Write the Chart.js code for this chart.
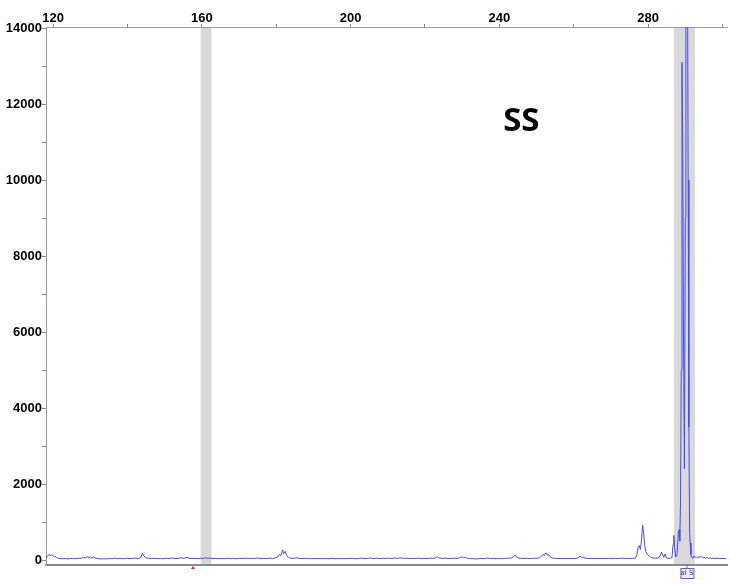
<!DOCTYPE html>
<html>
<head>
<meta charset="utf-8">
<script src="https://cdn.jsdelivr.net/npm/chart.js@4"></script>
<style>
  body { margin: 0; background: #fff; }
  canvas { display: block; }
</style>
</head>
<body>
<canvas id="epg" width="730" height="584"></canvas>
<script>
// fragment size (bp) and signal (RFU)
const sizes = [
  118.2, 118.6, 119.0, 119.3, 119.6, 120.0, 120.4, 120.8, 121.2, 121.8, 122.5, 123.3, 124.0, 124.8, 125.5, 126.2,
  127.0, 127.6, 128.2, 128.7, 129.2, 129.6, 130.0, 130.4, 130.9, 131.4, 132.0, 132.8, 133.5, 134.3, 135.0, 135.8,
  136.6, 137.4, 138.2, 139.0, 139.8, 140.6, 141.4, 142.2, 143.0, 143.6, 144.0, 144.4, 144.9, 145.6, 146.4, 147.2,
  148.0, 148.8, 149.6, 150.4, 151.2, 152.0, 152.8, 153.6, 154.4, 155.2, 156.0, 156.8, 157.6, 158.4, 159.2, 159.8,
  160.4, 161.0, 161.6, 162.2, 163.0, 163.8, 164.6, 165.4, 166.2, 167.0, 167.8, 168.6, 169.4, 170.2, 171.0, 171.8,
  172.6, 173.4, 174.2, 175.0, 175.8, 176.6, 177.4, 178.2, 179.0, 179.8, 180.4, 180.9, 181.3, 181.7, 182.0, 182.4,
  182.8, 183.3, 183.8, 184.6, 185.4, 186.2, 187.0, 187.8, 188.6, 189.4, 190.2, 191.0, 191.8, 192.6, 193.4, 194.2,
  195.0, 195.8, 196.6, 197.4, 198.2, 199.0, 199.8, 200.6, 201.4, 202.2, 203.0, 203.8, 204.6, 205.4, 206.2, 207.0,
  207.8, 208.6, 209.4, 210.2, 211.0, 211.8, 212.6, 213.4, 214.2, 215.0, 215.8, 216.6, 217.4, 218.2, 219.0, 219.8,
  220.6, 221.4, 222.2, 222.8, 223.3, 223.8, 224.6, 225.4, 226.2, 227.0, 227.8, 228.6, 229.2, 229.6, 230.0, 230.4,
  230.8, 231.2, 232.0, 232.8, 233.6, 234.4, 235.2, 236.0, 236.8, 237.6, 238.4, 239.2, 240.0, 240.8, 241.6, 242.4,
  243.2, 243.8, 244.2, 244.6, 245.2, 246.0, 246.8, 247.6, 248.4, 249.2, 250.0, 250.8, 251.4, 251.8, 252.1, 252.5,
  252.9, 253.3, 253.7, 254.2, 255.0, 255.8, 256.6, 257.4, 258.2, 259.0, 259.8, 260.6, 261.2, 261.7, 262.1, 262.5,
  263.0, 263.8, 264.6, 265.4, 266.2, 267.0, 267.8, 268.6, 269.4, 270.2, 271.0, 271.8, 272.6, 273.4, 274.2, 275.0,
  275.8, 276.6, 277.0, 277.3, 277.6, 277.9, 278.2, 278.5, 278.8, 279.1, 279.4, 279.8, 280.3, 280.8, 281.3, 282.0,
  282.7, 283.2, 283.6, 283.9, 284.2, 284.6, 284.9, 285.3, 285.9, 286.4, 286.7, 286.9, 287.1, 287.4, 287.7, 287.9,
  288.1, 288.3, 288.5, 288.7, 288.9, 289.1, 289.3, 289.5, 289.75, 290.0, 290.15, 290.35, 290.55, 290.75, 290.95, 291.15,
  291.3, 291.5, 291.8, 292.1, 292.4, 292.7, 293.0, 293.4, 293.8, 294.2, 294.6, 295.0, 295.4, 295.8, 296.2, 296.6,
  297.0, 297.5, 298.0, 298.6, 299.2, 299.8, 300.4, 301.0
];
const rfu = [
  60, 120, 150, 110, 140, 120, 80, 90, 50, 40, 35, 40, 30, 45, 35, 40,
  50, 45, 70, 55, 90, 60, 85, 55, 80, 50, 40, 30, 35, 30, 40, 35,
  50, 35, 45, 35, 50, 40, 45, 50, 40, 70, 180, 110, 60, 50, 40, 45,
  35, 40, 35, 50, 40, 55, 40, 45, 60, 45, 70, 45, 40, 45, 35, 50,
  45, 60, 45, 50, 40, 45, 35, 40, 35, 45, 35, 40, 35, 45, 40, 50,
  40, 45, 40, 55, 40, 45, 40, 50, 40, 60, 80, 150, 120, 270, 170, 230,
  120, 70, 50, 45, 60, 45, 40, 45, 40, 35, 40, 35, 40, 35, 40, 35,
  45, 35, 40, 35, 40, 35, 45, 40, 35, 40, 50, 40, 45, 55, 40, 50,
  40, 45, 40, 50, 40, 55, 45, 60, 45, 50, 40, 45, 40, 50, 40, 45,
  40, 50, 45, 60, 85, 55, 45, 50, 40, 45, 50, 40, 60, 70, 85, 60,
  80, 50, 40, 35, 30, 35, 45, 35, 55, 40, 45, 35, 40, 35, 45, 50,
  55, 90, 130, 80, 50, 45, 40, 45, 40, 50, 45, 60, 110, 160, 120, 190,
  130, 140, 80, 55, 45, 40, 40, 40, 40, 40, 40, 45, 60, 100, 70, 80,
  50, 40, 45, 40, 45, 40, 45, 40, 45, 40, 45, 40, 50, 45, 40, 45,
  40, 50, 150, 330, 380, 280, 500, 920, 700, 380, 220, 150, 100, 70, 55, 45,
  50, 110, 210, 140, 70, 160, 60, 45, 50, 60, 400, 650, 350, 80, 120, 350,
  700, 800, 500, 1500, 5000, 13100, 11000, 6000, 2400, 9000, 15500, 19000, 17000, 10000, 3500, 700,
  450, 150, 60, 50, 110, 80, 50, 90, 60, 100, 55, 80, 45, 70, 45, 60,
  40, 55, 40, 50, 40, 45, 40, 45
];

const xTicks = [120, 140, 160, 180, 200, 220, 240, 260, 280, 300];
const xLabels = [120, 160, 200, 240, 280];
const yTicks = [0, 1000, 2000, 3000, 4000, 5000, 6000, 7000, 8000, 9000, 10000, 11000, 12000, 13000, 14000];
const yLabels = [0, 2000, 4000, 6000, 8000, 10000, 12000, 14000];

// grey bins (bp)
const bins = [[159.7, 162.6], [286.9, 292.6]];
const sampleName = 'SS';
const alleleCall = 'al S';

const tickFont = { family: '"Liberation Sans", Arial, sans-serif', size: 13, weight: 'bold' };

const extras = {
  id: 'extras',
  beforeDatasetsDraw(chart) {
    const { ctx, chartArea: a, scales: { x } } = chart;
    ctx.save();
    ctx.fillStyle = '#d9d9d9';
    bins.forEach(([s, e]) => {
      const x0 = x.getPixelForValue(s), x1 = x.getPixelForValue(e);
      ctx.fillRect(x0, a.top + 1, x1 - x0, a.bottom - a.top - 2);
    });
    ctx.restore();
  },
  afterDraw(chart) {
    const { ctx, chartArea: a, scales: { x, y } } = chart;
    ctx.save();
    // sample label
    ctx.fillStyle = '#000';
    ctx.font = 'bold 33px "Open Sans", sans-serif';
    ctx.textAlign = 'center';
    ctx.textBaseline = 'middle';
    ctx.fillText(sampleName, x.getPixelForValue(245.9), y.getPixelForValue(11550));

    // red marker under the axis
    const mx = x.getPixelForValue(157.6);
    ctx.fillStyle = '#e02020';
    ctx.beginPath();
    ctx.moveTo(mx - 2, a.bottom + 4);
    ctx.lineTo(mx + 2, a.bottom + 4);
    ctx.lineTo(mx, a.bottom + 1);
    ctx.closePath();
    ctx.fill();

    // allele call box
    const bx = x.getPixelForValue(290.3);
    ctx.strokeStyle = '#5a5af0';
    ctx.lineWidth = 1;
    ctx.beginPath();
    ctx.moveTo(bx + 0.5, a.bottom);
    ctx.lineTo(bx + 0.5, a.bottom + 3);
    ctx.stroke();
    ctx.fillStyle = '#eef0ff';
    ctx.fillRect(bx - 6, a.bottom + 3, 13, 10);
    ctx.strokeRect(bx - 6 + 0.5, a.bottom + 3.5, 13, 10);
    ctx.fillStyle = '#303060';
    ctx.font = '7px "DejaVu Sans", sans-serif';
    ctx.fillText(alleleCall, bx + 0.5, a.bottom + 8.5);
    ctx.restore();
  }
};

const ctx = document.getElementById('epg').getContext('2d');
const chart = new Chart(ctx, {
  type: 'line',
  data: {
    datasets: [{
      label: sampleName,
      data: sizes.map((s, i) => ({ x: s, y: rfu[i] })),
      borderColor: 'rgb(72, 72, 245)',
      borderWidth: 1,
      pointRadius: 0,
      tension: 0,
      fill: false
    }]
  },
  options: {
    responsive: false,
    animation: false,
    layout: { padding: { left: 0, right: 3, top: 0, bottom: 0 } },
    plugins: { legend: { display: false }, tooltip: { enabled: false } },
    scales: {
      x: {
        type: 'linear',
        position: 'top',
        min: 118.1,
        max: 301.2,
        afterBuildTicks: s => { s.ticks = xTicks.map(v => ({ value: v })); },
        afterFit: s => { s.height = 27; },
        ticks: {
          autoSkip: false,
          maxRotation: 0,
          padding: -2,
          color: '#000',
          font: tickFont,
          callback: v => xLabels.includes(v) ? String(v) : ''
        },
        grid: { drawOnChartArea: false, tickLength: 3, color: '#888' },
        border: { color: '#9a9a9a', width: 1 }
      },
      xb: {
        type: 'linear',
        position: 'bottom',
        min: 118.1,
        max: 301.2,
        afterFit: s => { s.height = 19; },
        ticks: { display: false },
        grid: { display: false, drawTicks: false },
        border: { color: '#8a8a8a', width: 2 }
      },
      y: {
        type: 'linear',
        position: 'left',
        min: -130,
        max: 14030,
        afterBuildTicks: s => { s.ticks = yTicks.map(v => ({ value: v })); },
        afterFit: s => { s.width = 46; },
        ticks: {
          autoSkip: false,
          padding: 0,
          color: '#000',
          font: tickFont,
          callback: v => yLabels.includes(v) ? String(v) : ''
        },
        grid: { drawOnChartArea: false, tickLength: 4, color: '#888' },
        border: { color: '#9a9a9a', width: 1 }
      }
    }
  },
  plugins: [extras]
});

window.chart = chart;
</script>
</body>
</html>
